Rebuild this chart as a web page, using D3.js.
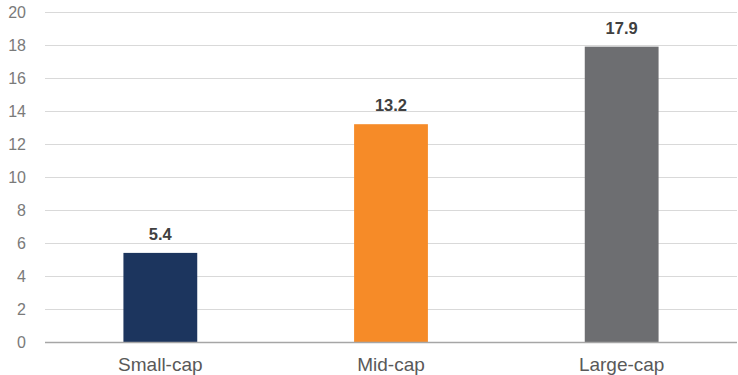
<!DOCTYPE html>
<html>
<head>
<meta charset="utf-8">
<script src="https://cdn.jsdelivr.net/npm/d3@7"></script>
<style>
  html, body { margin: 0; padding: 0; background: #fff; }
  svg { display: block; font-family: "Liberation Sans", Arial, sans-serif; }
</style>
</head>
<body>
<svg id="chart" width="738" height="375"></svg>
<script>
// Market-cap segments and their values
const categories = ["Small-cap", "Mid-cap", "Large-cap"];
const values = [5.4, 13.2, 17.9];
const barColors = ["#1c355e", "#f68b28", "#6d6e71"];
const yTicks = [0, 2, 4, 6, 8, 10, 12, 14, 16, 18, 20];

const svg = d3.select("#chart");
const plot = { left: 45, right: 737, top: 12, bottom: 342 };

const x = d3.scaleBand()
  .domain(categories)
  .range([plot.left, plot.right])
  .paddingInner(0.68)
  .paddingOuter(0.34);

const y = d3.scaleLinear()
  .domain([0, 20])
  .range([plot.bottom, plot.top]);

// Horizontal gridlines
svg.append("g")
  .selectAll("line")
  .data(yTicks.filter(d => d !== 0))
  .join("line")
  .attr("x1", plot.left)
  .attr("x2", plot.right)
  .attr("y1", d => Math.round(y(d)) + 0.5)
  .attr("y2", d => Math.round(y(d)) + 0.5)
  .attr("stroke", "#d9d9d9")
  .attr("stroke-width", 1.2);

// Y-axis tick labels
const yAxis = d3.axisLeft(y).tickValues(yTicks).tickSize(0).tickPadding(0);
svg.append("g")
  .attr("transform", `translate(26,0)`)
  .call(yAxis)
  .call(g => g.select(".domain").remove())
  .call(g => g.selectAll("text")
    .attr("fill", "#7a7a7a")
    .style("font-size", "16px")
    .style("font-family", "'Liberation Sans', Arial, sans-serif"));

// Bars
svg.append("g")
  .selectAll("rect")
  .data(categories)
  .join("rect")
  .attr("x", d => x(d))
  .attr("width", x.bandwidth())
  .attr("y", (d, i) => y(values[i]))
  .attr("height", (d, i) => y(0) - y(values[i]))
  .attr("fill", (d, i) => barColors[i]);

// Baseline
svg.append("line")
  .attr("x1", plot.left)
  .attr("x2", plot.right)
  .attr("y1", plot.bottom + 0.5)
  .attr("y2", plot.bottom + 0.5)
  .attr("stroke", "#a6a6a6")
  .attr("stroke-width", 1.5);

// Value labels above bars
svg.append("g")
  .selectAll("text")
  .data(categories)
  .join("text")
  .attr("x", d => x(d) + x.bandwidth() / 2)
  .attr("y", (d, i) => y(values[i]) - 13)
  .attr("text-anchor", "middle")
  .attr("fill", "#404040")
  .style("font-size", "16.5px")
  .style("font-weight", "bold")
  .text((d, i) => values[i].toFixed(1));

// Category labels
const xAxis = d3.axisBottom(x).tickSize(0).tickPadding(0);
svg.append("g")
  .attr("transform", `translate(0,${plot.bottom})`)
  .call(xAxis)
  .call(g => g.select(".domain").remove())
  .call(g => g.selectAll("text")
    .attr("dy", null)
    .attr("y", 29)
    .attr("fill", "#595959")
    .style("font-size", "19px")
    .style("font-family", "'Liberation Sans', Arial, sans-serif"));
</script>
</body>
</html>
